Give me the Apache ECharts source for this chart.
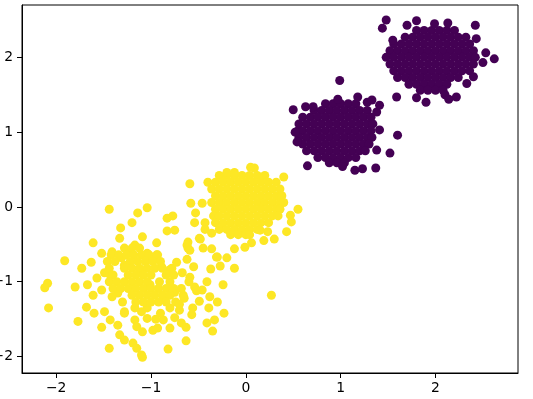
<!DOCTYPE html>
<html>
<head>
<meta charset="utf-8">
<script src="https://cdn.jsdelivr.net/npm/echarts@6/dist/echarts.min.js"></script>
<style>
html, body { margin: 0; padding: 0; background: #fff; }
#chart { width: 533px; height: 399px; }
</style>
</head>
<body>
<div id="chart"></div>
<script>
// tick positions (both axes)
var xTicks = [-2, -1, 0, 1, 2];
var yTicks = [-2, -1, 0, 1, 2];

// class 0 (purple): blob around (2, 2)
var purpleCoreA = [
    [1.80, 2.36], [1.88, 2.36], [1.96, 2.36], [2.04, 2.36], [2.12, 2.36], [2.20, 2.36],
    [1.68, 2.27], [1.76, 2.27], [1.84, 2.27], [1.92, 2.27], [2.00, 2.27], [2.08, 2.27], [2.16, 2.27], [2.24, 2.27], [2.32, 2.27],
    [1.56, 2.18], [1.64, 2.18], [1.72, 2.18], [1.80, 2.18], [1.88, 2.18], [1.96, 2.18], [2.04, 2.18], [2.12, 2.18], [2.20, 2.18], [2.28, 2.18], [2.36, 2.18],
    [1.52, 2.09], [1.60, 2.09], [1.68, 2.09], [1.76, 2.09], [1.84, 2.09], [1.92, 2.09], [2.00, 2.09], [2.08, 2.09], [2.16, 2.09], [2.24, 2.09], [2.32, 2.09], [2.40, 2.09],
    [1.48, 2.00], [1.56, 2.00], [1.64, 2.00], [1.72, 2.00], [1.80, 2.00], [1.88, 2.00], [1.96, 2.00], [2.04, 2.00], [2.12, 2.00], [2.20, 2.00], [2.28, 2.00], [2.36, 2.00], [2.42, 2.00],
    [1.52, 1.91], [1.60, 1.91], [1.68, 1.91], [1.76, 1.91], [1.84, 1.91], [1.92, 1.91], [2.00, 1.91], [2.08, 1.91], [2.16, 1.91], [2.24, 1.91], [2.32, 1.91], [2.40, 1.91],
    [1.56, 1.82], [1.64, 1.82], [1.72, 1.82], [1.80, 1.82], [1.88, 1.82], [1.96, 1.82], [2.04, 1.82], [2.12, 1.82], [2.20, 1.82], [2.28, 1.82], [2.36, 1.82],
    [1.60, 1.73], [1.68, 1.73], [1.76, 1.73], [1.84, 1.73], [1.92, 1.73], [2.00, 1.73], [2.08, 1.73], [2.16, 1.73], [2.24, 1.73],
    [1.72, 1.64], [1.80, 1.64], [1.88, 1.64], [1.96, 1.64], [2.04, 1.64], [2.12, 1.64],
    [1.84, 1.56], [1.92, 1.56], [2.00, 1.56], [2.08, 1.56]
];
var purpleOuterA = [
    [1.48, 2.50], [1.44, 2.39], [1.70, 2.43], [1.80, 2.49], [1.99, 2.45], [2.13, 2.46], [2.42, 2.43],
    [1.55, 2.23], [2.43, 2.25], [2.62, 1.98], [2.53, 2.06], [2.50, 1.93], [2.40, 1.74], [2.33, 1.65],
    [1.59, 1.47], [1.80, 1.46], [1.90, 1.40], [2.10, 1.50], [2.22, 1.47], [2.14, 1.44], [1.41, 1.36], [1.33, 1.43]
];

// class 0 (purple): blob around (1, 1)
var purpleCoreB = [
    [0.84, 1.38], [0.92, 1.38], [1.00, 1.38], [1.08, 1.38], [1.16, 1.38],
    [0.72, 1.29], [0.80, 1.29], [0.88, 1.29], [0.96, 1.29], [1.04, 1.29], [1.12, 1.29], [1.20, 1.29], [1.28, 1.29],
    [0.60, 1.20], [0.68, 1.20], [0.76, 1.20], [0.84, 1.20], [0.92, 1.20], [1.00, 1.20], [1.08, 1.20], [1.16, 1.20], [1.24, 1.20], [1.32, 1.20],
    [0.56, 1.11], [0.64, 1.11], [0.72, 1.11], [0.80, 1.11], [0.88, 1.11], [0.96, 1.11], [1.04, 1.11], [1.12, 1.11], [1.20, 1.11], [1.28, 1.11], [1.34, 1.11],
    [0.55, 1.02], [0.60, 1.02], [0.68, 1.02], [0.76, 1.02], [0.84, 1.02], [0.92, 1.02], [1.00, 1.02], [1.08, 1.02], [1.16, 1.02], [1.24, 1.02], [1.32, 1.02],
    [0.56, 0.93], [0.64, 0.93], [0.72, 0.93], [0.80, 0.93], [0.88, 0.93], [0.96, 0.93], [1.04, 0.93], [1.12, 0.93], [1.20, 0.93], [1.28, 0.93], [1.33, 0.93],
    [0.60, 0.84], [0.68, 0.84], [0.76, 0.84], [0.84, 0.84], [0.92, 0.84], [1.00, 0.84], [1.08, 0.84], [1.16, 0.84], [1.24, 0.84], [1.30, 0.84],
    [0.64, 0.75], [0.72, 0.75], [0.80, 0.75], [0.88, 0.75], [0.96, 0.75], [1.04, 0.75], [1.12, 0.75], [1.20, 0.75], [1.26, 0.75],
    [0.76, 0.66], [0.84, 0.66], [0.92, 0.66], [1.00, 0.66], [1.08, 0.66], [1.16, 0.66],
    [0.88, 0.59], [0.96, 0.59], [1.04, 0.59]
];
var purpleOuterB = [
    [0.99, 1.69], [0.50, 1.30], [0.63, 1.34], [0.71, 1.34], [0.97, 1.44], [1.18, 1.47], [1.28, 1.40],
    [1.38, 1.27], [0.52, 1.00], [0.54, 0.87], [1.60, 0.96], [1.41, 1.03], [1.52, 0.72], [1.38, 0.76],
    [0.65, 0.55], [1.15, 0.49], [1.23, 0.51], [1.37, 0.52], [1.02, 0.54]
];

// class 1 (yellow): blob around (0, 0)
var yellowCoreC = [
    [-0.28, 0.42], [-0.20, 0.42], [-0.12, 0.42], [-0.04, 0.42], [0.04, 0.42], [0.12, 0.42], [0.20, 0.42],
    [-0.40, 0.33], [-0.32, 0.33], [-0.24, 0.33], [-0.16, 0.33], [-0.08, 0.33], [0.00, 0.33], [0.08, 0.33], [0.16, 0.33], [0.24, 0.33], [0.32, 0.33],
    [-0.36, 0.24], [-0.28, 0.24], [-0.20, 0.24], [-0.12, 0.24], [-0.04, 0.24], [0.04, 0.24], [0.12, 0.24], [0.20, 0.24], [0.28, 0.24], [0.36, 0.24],
    [-0.32, 0.15], [-0.24, 0.15], [-0.16, 0.15], [-0.08, 0.15], [0.00, 0.15], [0.08, 0.15], [0.16, 0.15], [0.24, 0.15], [0.32, 0.15], [0.38, 0.15],
    [-0.36, 0.06], [-0.28, 0.06], [-0.20, 0.06], [-0.12, 0.06], [-0.04, 0.06], [0.04, 0.06], [0.12, 0.06], [0.20, 0.06], [0.28, 0.06], [0.36, 0.06], [0.40, 0.06],
    [-0.32, -0.03], [-0.24, -0.03], [-0.16, -0.03], [-0.08, -0.03], [0.00, -0.03], [0.08, -0.03], [0.16, -0.03], [0.24, -0.03], [0.32, -0.03], [0.36, -0.03],
    [-0.34, -0.12], [-0.28, -0.12], [-0.20, -0.12], [-0.12, -0.12], [-0.04, -0.12], [0.04, -0.12], [0.12, -0.12], [0.20, -0.12], [0.28, -0.12], [0.34, -0.12],
    [-0.32, -0.21], [-0.24, -0.21], [-0.16, -0.21], [-0.08, -0.21], [0.00, -0.21], [0.08, -0.21], [0.16, -0.21], [0.24, -0.21],
    [-0.28, -0.30], [-0.20, -0.30], [-0.12, -0.30], [-0.04, -0.30], [0.04, -0.30], [0.12, -0.30],
    [-0.16, -0.37], [-0.08, -0.37], [0.00, -0.37], [0.04, -0.37]
];
var yellowOuterC = [
    [0.09, 0.52], [0.05, 0.53], [-0.20, 0.46], [-0.12, 0.46], [0.40, 0.40], [-0.59, 0.31],
    [0.55, -0.03], [0.47, -0.11], [0.48, -0.20], [0.43, -0.33], [0.30, -0.43], [0.19, -0.45],
    [-0.58, 0.05], [-0.46, 0.05], [-0.53, -0.08], [-0.54, -0.21], [-0.43, -0.30], [-0.48, -0.43],
    [-0.62, -0.51], [-0.59, -0.58], [-0.45, -0.55], [-0.36, -0.56], [-0.31, -0.67], [-0.20, -0.68],
    [-0.12, -0.56], [-0.01, -0.54], [0.06, -0.48], [-0.36, -0.35], [0.15, -0.31], [0.23, -0.33]
];

// class 1 (yellow): wide blob around (-1, -1)
var yellowSpreadD = [
    [-1.44, -0.03], [-1.32, -0.28], [-1.20, -0.21], [-1.14, -0.08], [-1.04, -0.01], [-1.61, -0.48],
    [-1.91, -0.72], [-1.73, -0.82], [-1.63, -0.74], [-2.09, -1.02], [-2.12, -1.08], [-1.80, -1.07],
    [-1.67, -1.04], [-1.61, -1.18], [-2.08, -1.35], [-1.68, -1.34], [-1.60, -1.42], [-1.77, -1.53],
    [-1.52, -1.61], [-1.44, -1.89], [-1.49, -1.40], [-1.33, -0.42], [-1.52, -0.62], [-1.41, -0.60],
    [-1.57, -0.95], [-1.52, -1.11], [-1.43, -0.91], [-1.35, -1.15], [-1.41, -1.20], [-1.30, -1.27],
    [-1.28, -1.40], [-1.17, -1.35], [-1.17, -1.51], [-1.43, -1.51], [-1.35, -1.58], [-1.33, -1.71],
    [-1.28, -1.78], [-1.19, -1.82], [-1.15, -1.89], [-1.10, -1.98], [-1.09, -1.67], [-1.49, -0.88],
    [-1.31, -0.68], [-1.24, -0.60], [-1.17, -0.51], [-1.28, -0.78], [-0.83, -0.15], [-0.77, -0.12],
    [-0.83, -0.32], [-0.75, -0.31], [-0.43, -0.21], [-0.49, -0.42], [-1.09, -0.40], [-0.94, -0.48],
    [-0.61, -0.47], [-0.61, -0.55], [-0.30, -0.67], [-0.12, -0.82], [-0.37, -0.83], [-0.27, -0.79],
    [-0.24, -1.04], [-0.54, -1.07], [-0.46, -1.11], [-0.41, -1.00], [-0.38, -1.20], [-0.49, -1.26],
    [-0.39, -1.35], [-0.30, -1.27], [-0.23, -1.42], [-0.33, -1.51], [-0.41, -1.55], [-0.35, -1.66],
    [-0.63, -1.61], [-0.63, -1.79], [-0.82, -1.90], [-1.09, -2.01], [-0.93, -1.62], [-0.80, -1.62],
    [-0.98, -1.65], [-0.87, -1.51], [-0.57, -1.44], [-0.56, -1.35], [-0.70, -1.38], [-0.80, -1.35],
    [-0.87, -1.22], [-0.66, -1.18], [-0.75, -1.14], [-0.91, -1.00], [-1.01, -1.04], [-1.04, -1.35],
    [-1.04, -1.49], [-0.80, -0.84], [-0.67, -0.88], [-0.59, -0.94], [-0.73, -0.74], [-0.89, -0.80],
    [-0.98, -0.71], [-1.04, -0.62], [-0.93, -0.64], [-1.12, -0.84], [0.27, -1.18]
];
var yellowDenseD = [
    [-1.28, -0.55], [-1.20, -0.55], [-1.12, -0.55],
    [-1.42, -0.64], [-1.34, -0.64], [-1.26, -0.64], [-1.18, -0.64], [-1.10, -0.64], [-1.02, -0.64], [-0.94, -0.64],
    [-1.46, -0.73], [-1.38, -0.73], [-1.22, -0.73], [-1.14, -0.73], [-1.06, -0.73], [-0.98, -0.73], [-0.90, -0.73],
    [-1.44, -0.82], [-1.28, -0.82], [-1.20, -0.82], [-1.12, -0.82], [-1.04, -0.82], [-0.96, -0.82], [-0.88, -0.82], [-0.78, -0.82],
    [-1.40, -0.91], [-1.24, -0.91], [-1.16, -0.91], [-1.08, -0.91], [-1.00, -0.91], [-0.84, -0.91], [-0.76, -0.91],
    [-1.44, -1.00], [-1.36, -1.00], [-1.28, -1.00], [-1.20, -1.00], [-1.12, -1.00], [-1.04, -1.00], [-0.80, -1.00],
    [-1.40, -1.09], [-1.32, -1.09], [-1.24, -1.09], [-1.16, -1.09], [-1.08, -1.09], [-1.00, -1.09], [-0.92, -1.09], [-0.84, -1.09], [-0.76, -1.09], [-0.68, -1.09],
    [-1.20, -1.18], [-1.12, -1.18], [-1.04, -1.18], [-0.96, -1.18], [-0.88, -1.18], [-0.80, -1.18],
    [-1.16, -1.27], [-1.08, -1.27], [-1.00, -1.27], [-0.92, -1.27], [-0.84, -1.27], [-0.74, -1.27],
    [-0.62, -0.70], [-0.55, -0.80], [-0.60, -1.00], [-0.52, -1.12], [-0.65, -1.22], [-0.70, -1.30], [-0.90, -1.42],
    [-1.10, -1.40], [-1.28, -1.42], [-0.95, -1.50], [-0.75, -1.48], [-1.15, -1.60], [-0.68, -1.55]
];

function minusLabel(v) {
    return String(v).replace('-', '\u2212');
}

var myChart = echarts.init(document.getElementById('chart'), null, { renderer: 'canvas' });

var axisFont = {
    color: '#000',
    fontFamily: 'DejaVu Sans',
    fontSize: 13.9
};

option = {
    animation: false,
    backgroundColor: '#fff',
    grid: {
        left: 22,
        right: 15,
        top: 5,
        bottom: 26,
        containLabel: false,
        outerBoundsMode: 'none',
        show: true,
        borderColor: '#000',
        borderWidth: 1
    },
    xAxis: {
        type: 'value',
        min: -2.36,
        max: 2.87,
        splitLine: { show: false },
        axisLine: { show: true, onZero: false, lineStyle: { color: '#000', width: 1 } },
        axisTick: { show: true, inside: false, length: 5, customValues: xTicks, lineStyle: { color: '#000' } },
        axisLabel: Object.assign({ customValues: xTicks, margin: 8, formatter: minusLabel }, axisFont)
    },
    yAxis: {
        type: 'value',
        min: -2.22,
        max: 2.70,
        splitLine: { show: false },
        axisLine: { show: true, onZero: false, lineStyle: { color: '#000', width: 1 } },
        axisTick: { show: true, inside: false, length: 5, customValues: yTicks, lineStyle: { color: '#000' } },
        axisLabel: Object.assign({ customValues: yTicks, margin: 9, formatter: minusLabel }, axisFont)
    },
    series: [{
        name: 'class 1',
        type: 'scatter',
        symbolSize: 9,
        silent: true,
        itemStyle: { color: '#fde725', opacity: 1 },
        data: yellowSpreadD.concat(yellowDenseD, yellowCoreC, yellowOuterC)
    }, {
        name: 'class 0',
        type: 'scatter',
        symbolSize: 9,
        silent: true,
        itemStyle: { color: '#440154', opacity: 1 },
        data: purpleCoreB.concat(purpleOuterB, purpleCoreA, purpleOuterA)
    }]
};
myChart.setOption(option);
</script>
</body>
</html>
